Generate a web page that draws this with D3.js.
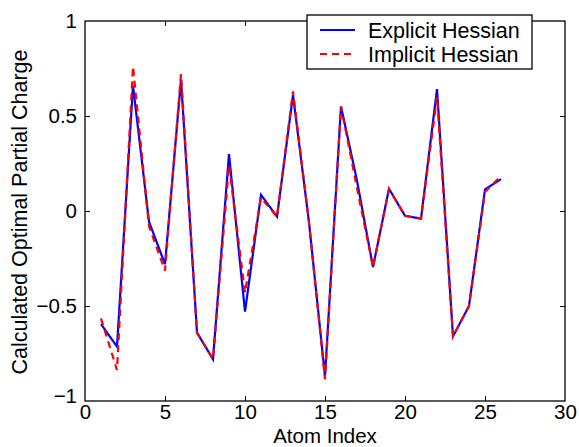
<!DOCTYPE html>
<html>
<head>
<meta charset="utf-8">
<script src="https://cdn.jsdelivr.net/npm/d3@7"></script>
<style>
  body { margin: 0; background: #fff; }
  svg { display: block; font-family: "Liberation Sans", Arial, Helvetica, sans-serif; }
</style>
</head>
<body>
<svg id="chart"></svg>
<script>
// atom indices and the two charge series
const atomIndex = [1, 2, 3, 4, 5, 6, 7, 8, 9, 10, 11, 12, 13, 14, 15, 16, 17, 18, 19, 20, 21, 22, 23, 24, 25, 26];
const explicitHessian = [-0.595, -0.714, 0.66, -0.056, -0.28, 0.69, -0.64, -0.78, 0.30, -0.53, 0.085, -0.03, 0.61, -0.06, -0.87, 0.55, 0.16, -0.295, 0.117, -0.025, -0.04, 0.642, -0.66, -0.50, 0.114, 0.168];
const implicitHessian = [-0.565, -0.837, 0.76, -0.08, -0.314, 0.72, -0.64, -0.78, 0.24, -0.43, 0.07, -0.03, 0.63, -0.06, -0.885, 0.55, 0.12, -0.295, 0.115, -0.025, -0.04, 0.60, -0.66, -0.50, 0.10, 0.184];
const xTicks = [0, 5, 10, 15, 20, 25, 30];
const yTicks = [-1, -0.5, 0, 0.5, 1];
const seriesNames = ['Explicit Hessian', 'Implicit Hessian'];

const config = {
  containerWidth: 579,
  containerHeight: 447,
  margin: { top: 21, right: 14, bottom: 46, left: 85 }
};

const width = config.containerWidth - config.margin.left - config.margin.right;
const height = config.containerHeight - config.margin.top - config.margin.bottom;

const svg = d3.select('#chart')
  .attr('width', config.containerWidth)
  .attr('height', config.containerHeight);

const chart = svg.append('g')
  .attr('transform', `translate(${config.margin.left},${config.margin.top})`);

const xScale = d3.scaleLinear().domain([0, 30]).range([0, width]);
const yScale = d3.scaleLinear().domain([-1, 1]).range([height, 0]);

const fmt = d => d < 0 ? '\u2212' + Math.abs(d) : String(d);

// matlab style: ticks point inward on all four sides
const axisStyle = g => {
  g.select('.domain').remove();
  g.selectAll('.tick line').attr('stroke', '#000').attr('stroke-width', 1);
  g.selectAll('.tick text').attr('fill', '#000').attr('font-size', '20.5px');
};

chart.append('g')
  .attr('transform', `translate(0,${height})`)
  .call(d3.axisBottom(xScale).tickValues(xTicks).tickFormat(fmt).tickSizeInner(-5).tickSizeOuter(0).tickPadding(3))
  .call(axisStyle)
  .call(g => g.selectAll('.tick').filter(d => d === 0 || d === 30).select('line').remove());

chart.append('g')
  .call(d3.axisTop(xScale).tickValues(xTicks).tickFormat('').tickSizeInner(-5).tickSizeOuter(0))
  .call(axisStyle)
  .call(g => g.selectAll('.tick').filter(d => d === 0 || d === 30).select('line').remove());

chart.append('g')
  .call(d3.axisLeft(yScale).tickValues(yTicks).tickFormat(fmt).tickSizeInner(-5).tickSizeOuter(0).tickPadding(8))
  .call(axisStyle)
  .call(g => g.selectAll('.tick').filter(d => d === -1 || d === 1).select('line').remove())
  .call(g => g.selectAll('.tick').filter(d => d === -1).select('text').attr('dy', '0.05em'));

chart.append('g')
  .attr('transform', `translate(${width},0)`)
  .call(d3.axisRight(yScale).tickValues(yTicks).tickFormat('').tickSizeInner(-5).tickSizeOuter(0))
  .call(axisStyle)
  .call(g => g.selectAll('.tick').filter(d => d === -1 || d === 1).select('line').remove());

// box
chart.append('rect')
  .attr('width', width)
  .attr('height', height)
  .attr('fill', 'none')
  .attr('stroke', '#000')
  .attr('stroke-width', 1.3);

const line = d3.line()
  .x((d, i) => xScale(atomIndex[i]))
  .y(d => yScale(d));

chart.append('path')
  .datum(explicitHessian)
  .attr('d', line)
  .attr('fill', 'none')
  .attr('stroke', '#0000ff')
  .attr('stroke-width', 2.2);

chart.append('path')
  .datum(implicitHessian)
  .attr('d', line)
  .attr('fill', 'none')
  .attr('stroke', '#ff0000')
  .attr('stroke-width', 2.2)
  .attr('stroke-dasharray', '7,5');

// axis titles
svg.append('text')
  .attr('x', config.margin.left + width / 2)
  .attr('y', 443)
  .attr('text-anchor', 'middle')
  .attr('font-size', '20.5px')
  .text('Atom Index');

svg.append('text')
  .attr('transform', `translate(27,${config.margin.top + height / 2 + 1}) rotate(-90)`)
  .attr('text-anchor', 'middle')
  .attr('font-size', '21.5px')
  .text('Calculated Optimal Partial Charge');

// legend
const legend = svg.append('g').attr('transform', 'translate(307,15)');
legend.append('rect')
  .attr('width', 225)
  .attr('height', 54)
  .attr('fill', '#fff')
  .attr('stroke', '#000')
  .attr('stroke-width', 1.3);

const legendItems = legend.selectAll('.item')
  .data(seriesNames)
  .join('g')
  .attr('class', 'item')
  .attr('transform', (d, i) => `translate(0,${15 + i * 24})`);

legendItems.append('line')
  .attr('x1', 13)
  .attr('x2', 48)
  .attr('stroke', (d, i) => i === 0 ? '#0000ff' : '#ff0000')
  .attr('stroke-width', 2.2)
  .attr('stroke-dasharray', (d, i) => i === 0 ? null : '7,5');

legendItems.append('text')
  .attr('x', 61)
  .attr('dy', '0.35em')
  .attr('font-size', '21.5px')
  .text(d => d);
</script>
</body>
</html>
